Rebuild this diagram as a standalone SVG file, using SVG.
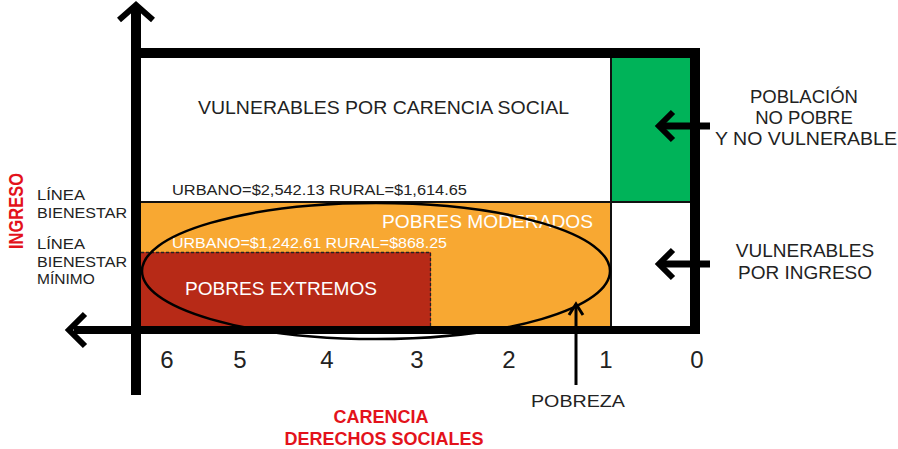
<svg xmlns="http://www.w3.org/2000/svg" width="898" height="449" viewBox="0 0 898 449">
<style>
.t{font-family:"Liberation Sans","DejaVu Sans",sans-serif;fill:#222}
.w{fill:#fff}
.b{font-family:"Liberation Sans","DejaVu Sans",sans-serif;font-weight:bold;fill:#E3121B}
.ax{stroke:#000;fill:none}
.chev{stroke:#000;fill:none;stroke-linecap:butt;stroke-linejoin:miter}
.thin{stroke:#111;stroke-width:2;fill:none}
</style>
<rect width="898" height="449" fill="#fff"/>
<g id="regions">
<g id="pobres-moderados">
<rect x="141" y="202" width="470" height="124" fill="#F8A832"/>
<text class="t w" x="382" y="228" font-size="18" textLength="211" lengthAdjust="spacingAndGlyphs">POBRES MODERADOS</text>
</g>
<g id="pobres-extremos">
<rect x="141" y="252" width="290" height="74" fill="#B72A17"/>
<path d="M141 252.5H430.5V326" stroke="#222" stroke-width="1.3" stroke-dasharray="3,2" fill="none"/>
<text class="t w" x="185" y="295" font-size="18" textLength="192" lengthAdjust="spacingAndGlyphs">POBRES EXTREMOS</text>
</g>
<g id="no-pobre">
<rect x="611" y="58" width="79" height="144" fill="#00B359"/>
</g>
<g id="vulnerables-carencia">
<text class="t" x="198" y="113.5" font-size="18" textLength="371" lengthAdjust="spacingAndGlyphs">VULNERABLES POR CARENCIA SOCIAL</text>
</g>
<path class="thin" d="M141 202H690M611 58V326"/>
<text class="t" x="172" y="195" font-size="14" textLength="295" lengthAdjust="spacingAndGlyphs">URBANO=$2,542.13  RURAL=$1,614.65</text>
<text class="t w" x="172" y="248" font-size="14" textLength="275" lengthAdjust="spacingAndGlyphs">URBANO=$1,242.61 RURAL=$868.25</text>
</g>
<g id="pobreza-ellipse">
<ellipse cx="376" cy="271" rx="234" ry="68" fill="none" stroke="#000" stroke-width="2.5"/>
</g>
<g id="axes">
<path class="ax" stroke-width="10" d="M136 395V8M131 53H695V334"/>
<path class="ax" stroke-width="8" d="M74 330H700"/>
<polyline class="chev" stroke-width="6" points="119,20 136,5 153,20"/>
<polyline class="chev" stroke-width="6" points="85,314 69,330 85,346"/>
</g>
<g id="connectors">
<path class="ax" stroke-width="7" d="M710 126H661M710 264H661"/>
<polyline class="chev" stroke-width="6" points="673,112 659,126 673,140"/>
<polyline class="chev" stroke-width="6" points="673,250 659,264 673,278"/>
<path class="ax" stroke-width="3" d="M576 385V304"/>
<polyline class="chev" stroke-width="3" points="569,315 576,304 583,315"/>
</g>
<g id="y-labels">
<text class="b" transform="translate(23,249) rotate(-90)" font-size="21" textLength="76" lengthAdjust="spacingAndGlyphs">INGRESO</text>
<text class="t" font-size="15.5"><tspan x="37" y="200" textLength="48" lengthAdjust="spacingAndGlyphs">LÍNEA</tspan><tspan x="37" y="218" textLength="90" lengthAdjust="spacingAndGlyphs">BIENESTAR</tspan></text>
<text class="t" font-size="15.5"><tspan x="37" y="249" textLength="48" lengthAdjust="spacingAndGlyphs">LÍNEA</tspan><tspan x="37" y="267" textLength="90" lengthAdjust="spacingAndGlyphs">BIENESTAR</tspan><tspan x="37" y="284">MÍNIMO</tspan></text>
</g>
<g id="x-labels" class="t" font-size="24" text-anchor="middle">
<text x="167" y="368">6</text>
<text x="240" y="368">5</text>
<text x="327" y="368">4</text>
<text x="417" y="368">3</text>
<text x="509" y="368">2</text>
<text x="606" y="368">1</text>
<text x="697" y="368">0</text>
</g>
<g id="label-pobreza">
<text class="t" x="531" y="407" font-size="17" textLength="94" lengthAdjust="spacingAndGlyphs">POBREZA</text>
</g>
<g id="label-carencia" text-anchor="middle">
<text class="b" x="381" y="423" font-size="18">CARENCIA</text>
<text class="b" x="384" y="445" font-size="18">DERECHOS SOCIALES</text>
</g>
<g id="label-no-pobre" class="t" font-size="18.5" text-anchor="middle">
<text x="804" y="103">POBLACIÓN</text>
<text x="804" y="124">NO POBRE</text>
<text x="806" y="145" textLength="182" lengthAdjust="spacingAndGlyphs">Y NO VULNERABLE</text>
</g>
<g id="label-vulnerables-ingreso" class="t" font-size="19" text-anchor="middle">
<text x="805" y="257">VULNERABLES</text>
<text x="805" y="279">POR INGRESO</text>
</g>
</svg>
